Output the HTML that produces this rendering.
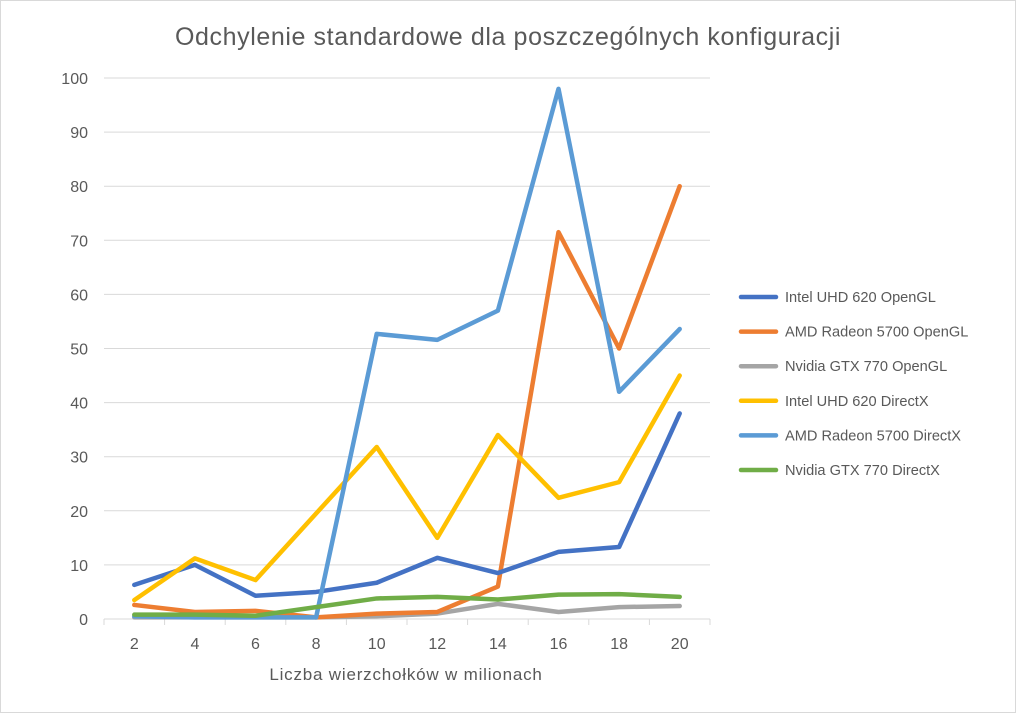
<!DOCTYPE html>
<html><head><meta charset="utf-8"><style>
body{margin:0;background:#fff;font-family:"Liberation Sans",sans-serif}
svg text{font-family:"Liberation Sans",sans-serif}
</style></head><body>
<svg width="1016" height="713" id="c">
<rect x="0.5" y="0.5" width="1015" height="712" fill="#fff" stroke="#d9d9d9"/>
<text x="508" y="45" text-anchor="middle" font-size="25" letter-spacing="0.6" fill="#595959">Odchylenie standardowe dla poszczególnych  konfiguracji</text>
<text x="406" y="680" text-anchor="middle" font-size="17" letter-spacing="0.8" fill="#595959">Liczba wierzchołków w milionach</text>
<g id="grid"></g><g id="series"></g><g id="legend"></g>
</svg>
<script>
const categories=[2,4,6,8,10,12,14,16,18,20];
const yTicks=[0,10,20,30,40,50,60,70,80,90,100];
const seriesNames=["Intel UHD 620 OpenGL","AMD Radeon 5700 OpenGL","Nvidia GTX 770 OpenGL","Intel UHD 620 DirectX","AMD Radeon 5700 DirectX","Nvidia GTX 770 DirectX"];
const intelGL=[6.3,10,4.3,5,6.7,11.3,8.5,12.4,13.3,38];
const amdGL=[2.6,1.3,1.5,0.3,1,1.3,6,71.5,50,80];
const nvGL=[0.3,0.3,0.3,0.3,0.5,1,2.8,1.3,2.2,2.4];
const intelDX=[3.5,11.2,7.2,19.5,31.8,15,34,22.4,25.3,45];
const amdDX=[0.5,0.3,0.3,0.3,52.7,51.6,57,98,42,53.6];
const nvDX=[0.8,0.8,0.6,2.2,3.8,4.1,3.6,4.5,4.6,4.1];
const colors=["#4472c4","#ed7d31","#a5a5a5","#ffc000","#5b9bd5","#70ad47"];
const data=[intelGL,amdGL,nvGL,intelDX,amdDX,nvDX];
const L=104,R=710,T=78,B=619;
const bw=(R-L)/categories.length;
const X=i=>L+bw*(i+0.5);
const Y=v=>B-(v/100)*(B-T);
const NS="http://www.w3.org/2000/svg";
function mk(t,a,p){const e=document.createElementNS(NS,t);for(const k in a)e.setAttribute(k,a[k]);p.appendChild(e);return e;}
const g=document.getElementById('grid');
yTicks.forEach(v=>{
 const l=mk('line',{x1:L,x2:R,y1:Y(v),y2:Y(v),stroke:"#d9d9d9","stroke-width":1},g);
 
 
 const t=mk('text',{x:88,y:Y(v)+6,"text-anchor":"end","font-size":16,fill:"#595959"},g);
 t.textContent=v;
 
 
});
for(let i=0;i<=categories.length;i++){
 const tk=mk('line',{x1:L+bw*i,x2:L+bw*i,y1:B,y2:B+6,stroke:"#d9d9d9"},g);
 
 
}
categories.forEach((c,i)=>{
 const t=mk('text',{x:X(i),y:B+30,"text-anchor":"middle","font-size":16,fill:"#595959"},g);
 t.textContent=c;
 
 
});
const s=document.getElementById('series');
const order=[2,1,0,3,4,5];
order.forEach(k=>{
 const p=mk('polyline',{points:data[k].map((v,i)=>X(i)+","+Y(v)).join(" "),fill:"none",stroke:colors[k],"stroke-width":4.5,"stroke-linejoin":"round","stroke-linecap":"round"},s);
 
 
});
const lg=document.getElementById('legend');
seriesNames.forEach((n,k)=>{
 const y=297+k*34.6;
 const l=mk('line',{x1:741,x2:776,y1:y,y2:y,stroke:colors[k],"stroke-width":4.5,"stroke-linecap":"round"},lg);
 
 
 const t=mk('text',{x:785,y:y+5,"font-size":14.6,fill:"#595959"},lg);
 t.textContent=n;
 
 
});
</script>
</body></html>
